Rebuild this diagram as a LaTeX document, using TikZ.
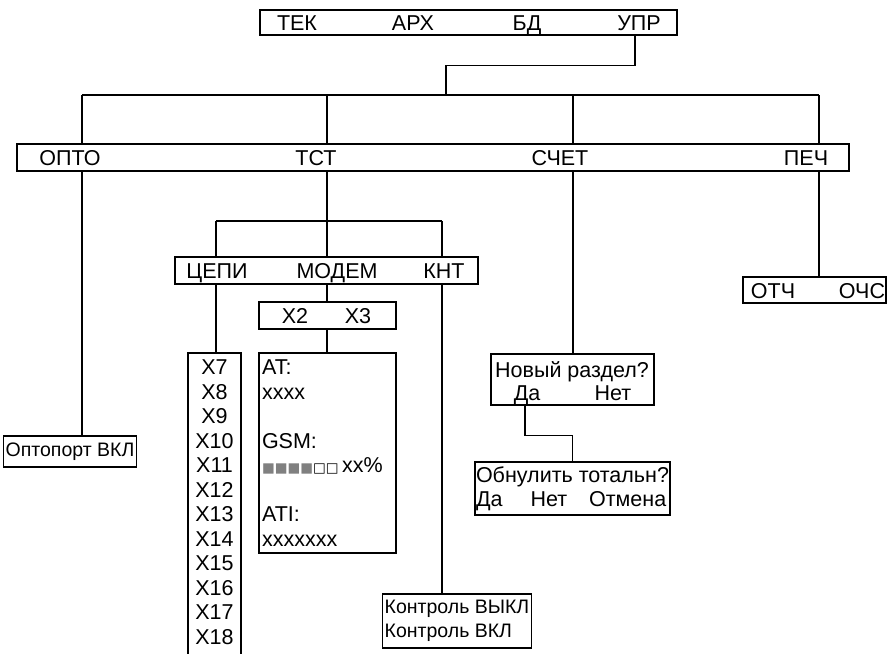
\documentclass[tikz,border=0pt]{standalone}
\usepackage{fontspec}
\setmainfont{Liberation Sans}
\newfontfamily\symfont{DejaVu Sans}
\begin{document}
\begin{tikzpicture}[x=1pt,y=-1pt,line width=1.4pt,
    every node/.style={font=\fontsize{21.5}{24.5}\selectfont},
    bar/.style={draw,inner sep=0pt},
    tight/.style={font=\fontsize{19.5}{24.5}\selectfont,inner xsep=2pt},
    word/.style={inner sep=0pt,text height=15.4pt,text depth=0pt}]
    \useasboundingbox (0,0) rectangle (890,653);

    \node[bar,minimum width=417pt,minimum height=25pt] (menu) at (468.5,22.5){};
    \node[word] (tek) at (297,23){ТЕК};
    \node[word] (arx) at (413,23){АРХ};
    \node[word] (bd) at (527,23){БД};
    \node[word] (upr) at (639,23){УПР};

    \node[bar,minimum width=832pt,minimum height=27pt] (main) at (433,157.5){};
    \node[word] (opto) at (70,158){ОПТО};
    \node[word] (tst) at (316,158){ТСТ};
    \node[word] (schet) at (560,158){СЧЕТ};
    \node[word] (pech) at (806,158){ПЕЧ};

    \coordinate (hub) at (446,95);
    \coordinate (b1) at (82,95);
    \coordinate (b2) at (327,95);
    \coordinate (b3) at (573,95);
    \coordinate (b4) at (819,95);

    \node[bar,minimum width=303pt,minimum height=27pt] (tstmenu) at (326.5,270.5){};
    \node[word] (cepi) at (217,271){ЦЕПИ};
    \node[word] (modem) at (337,271){МОДЕМ};
    \node[word] (knt) at (444,271){КНТ};

    \coordinate (s1) at (216,221);
    \coordinate (s3) at (442,221);

    \node[bar,minimum width=137pt,minimum height=27pt] (xmenu) at (327.5,315.5){};
    \node[word] (x2) at (295,316){X2};
    \node[word] (x3) at (358,316){X3};

    \node[bar,minimum width=53pt,minimum height=312pt] (xlist) at (214.5,509){};
    \node[align=center,inner sep=0pt,anchor=north] (xnames) at ([yshift=-7pt]xlist.north){X7\\X8\\X9\\X10\\X11\\X12\\X13\\X14\\X15\\X16\\X17\\X18};

    \node[bar,minimum width=137pt,minimum height=200pt] (atbox) at (327.5,453){};
    \node[align=left,inner sep=0pt,anchor=north west] (attext) at ([shift={(3pt,-7pt)}]atbox.north west){AT:\\xxxx\\[24.5pt]GSM:\\{\symfont\fontsize{13.5}{13.5}\selectfont\textcolor{gray}{■■■■}□□}\,xx\%\\[24.5pt]ATI:\\xxxxxxx};

    \node[bar,tight,minimum width=138pt,minimum height=54pt,align=left] (ctrl) at (457,621){Контроль ВЫКЛ\\Контроль ВКЛ};

    \node[bar,tight,minimum width=128pt,minimum height=31pt] (opt) at (70,451.5){Оптопорт ВКЛ};

    \node[bar,minimum width=163pt,minimum height=51pt] (novy) at (572.5,379.5){};
    \node[word] (question) at (572,370){Новый раздел?};
    \node[word] (da) at (527,393){Да};
    \node[word] (net) at (613,393){Нет};

    \node[bar,minimum width=195pt,minimum height=53pt,align=left] (obn) at (572.5,488.5){Обнулить тотальн?\\Да\hspace{28pt}Нет\hspace{22pt}Отмена};

    \node[bar,minimum width=143pt,minimum height=26pt] (pechmenu) at (814.5,290){};
    \node[word] (otch) at (773,291){ОТЧ};
    \node[word] (ochs) at (862,291){ОЧС};

    \draw ([xshift=-4pt]upr |- menu.south) -- ++(0,30) -| (hub);
    \draw (b1) -- (b4);
    \draw (b1) -- (b1 |- main.north);
    \draw (b2) -- (b2 |- main.north);
    \draw (b3) -- (b3 |- main.north);
    \draw (b4) -- (b4 |- main.north);

    \draw (b1 |- main.south) -- (b1 |- opt.north);
    \draw (b2 |- main.south) -- (b2 |- s1);
    \draw (s1) -- (s3);
    \draw (s1) -- (s1 |- tstmenu.north);
    \draw (b2 |- s1) -- (b2 |- tstmenu.north);
    \draw (s3) -- (s3 |- tstmenu.north);
    \draw (s1 |- tstmenu.south) -- (s1 |- xlist.north);
    \draw (b2 |- tstmenu.south) -- (b2 |- xmenu.north);
    \draw (b2 |- xmenu.south) -- (b2 |- atbox.north);
    \draw (s3 |- tstmenu.south) -- (s3 |- ctrl.north);
    \draw (b3 |- main.south) -- (b3 |- novy.north);
    \draw ([xshift=-2pt]da |- novy.south) -- ++(0,30) -| (obn.north);
    \draw (b4 |- main.south) -- (b4 |- pechmenu.north);
  \end{tikzpicture}
\end{document}
